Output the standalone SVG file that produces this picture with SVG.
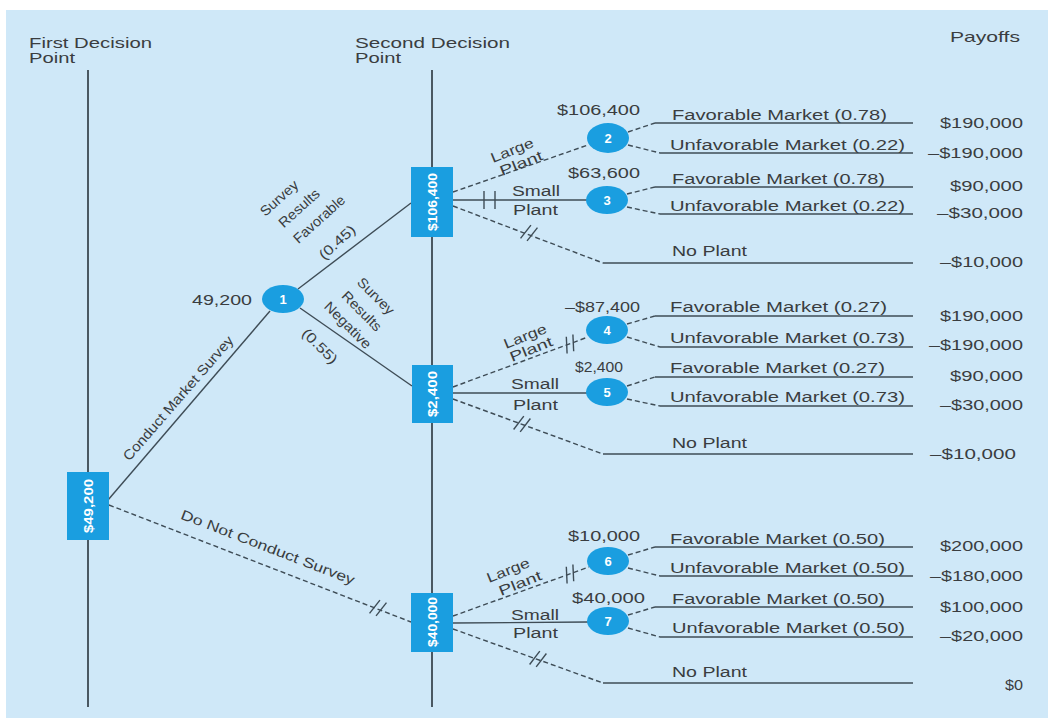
<svg xmlns="http://www.w3.org/2000/svg" xmlns:xlink="http://www.w3.org/1999/xlink" width="1053" height="720" viewBox="0 0 1053 720">
<style>
.t{font-family:"Liberation Sans",Arial,sans-serif;font-size:14px;fill:#3a3d40}
.h{font-size:15px}
.c{text-anchor:middle;dominant-baseline:central}
.ln{stroke:#3e4c56;stroke-width:1.4;fill:none}
.dash{stroke-dasharray:5 3}
.axis{stroke:#4a5862;stroke-width:2;fill:none}
.fill{fill:#1a9ee0}
.w{font-family:"Liberation Sans",Arial,sans-serif;fill:#ffffff;font-weight:bold;font-size:13px}
</style>
<defs>
  <!-- pruning marks: slanted pair and upright pair -->
  <g id="prune" class="ln">
    <line x1="-6" y1="8" x2="-1" y2="-8"/>
    <line x1="1" y1="8" x2="6" y2="-8"/>
  </g>
  <g id="bars" class="ln">
    <line x1="-5" y1="-9" x2="-5" y2="9"/>
    <line x1="6" y1="-9" x2="6" y2="9"/>
  </g>
</defs>

<rect x="6" y="10" width="1042" height="708" fill="#cfe8f8"/>

<!-- column headings and stage lines -->
<g id="headings">
  <text class="t h" x="29" y="48" textLength="123" lengthAdjust="spacingAndGlyphs">First Decision</text>
  <text class="t h" x="29" y="63" textLength="46" lengthAdjust="spacingAndGlyphs">Point</text>
  <text class="t h" x="355" y="48" textLength="155" lengthAdjust="spacingAndGlyphs">Second Decision</text>
  <text class="t h" x="355" y="63" textLength="46" lengthAdjust="spacingAndGlyphs">Point</text>
  <text class="t h" x="950" y="42" textLength="70" lengthAdjust="spacingAndGlyphs">Payoffs</text>
  <line class="axis" x1="88" y1="70" x2="88" y2="707"/>
  <line class="axis" x1="432" y1="70" x2="432" y2="707"/>
</g>

<g id="connectors">
  <!-- first decision -->
  <line class="ln" x1="108" y1="500" x2="270" y2="311"/>
  <line class="ln dash" x1="109" y1="505" x2="411" y2="622"/>
  <!-- survey outcomes -->
  <line class="ln" x1="298" y1="289" x2="411" y2="203"/>
  <line class="ln" x1="300" y1="308" x2="412" y2="386"/>
  <!-- favorable survey: plant choices -->
  <line class="ln dash" x1="453" y1="192" x2="588" y2="145"/>
  <line class="ln" x1="453" y1="200" x2="587" y2="200"/>
  <line class="ln dash" x1="453" y1="206" x2="603" y2="263"/>
  <line class="ln" x1="603" y1="263" x2="913" y2="263"/>
  <!-- negative survey: plant choices -->
  <line class="ln dash" x1="453" y1="387" x2="588" y2="337"/>
  <line class="ln" x1="453" y1="393" x2="587" y2="393"/>
  <line class="ln dash" x1="453" y1="399" x2="603" y2="454"/>
  <line class="ln" x1="603" y1="454" x2="913" y2="454"/>
  <!-- no survey: plant choices -->
  <line class="ln dash" x1="453" y1="616" x2="589" y2="567"/>
  <line class="ln" x1="453" y1="623" x2="588" y2="622"/>
  <line class="ln dash" x1="453" y1="629" x2="603" y2="683"/>
  <line class="ln" x1="603" y1="683" x2="913" y2="683"/>
  <!-- market outcomes -->
  <line class="ln dash" x1="628" y1="132" x2="655" y2="123"/><line class="ln" x1="655" y1="123" x2="913" y2="123"/>
  <line class="ln dash" x1="628" y1="145" x2="660" y2="153"/><line class="ln" x1="660" y1="153" x2="913" y2="153"/>
  <line class="ln dash" x1="627" y1="194" x2="655" y2="187"/><line class="ln" x1="655" y1="187" x2="913" y2="187"/>
  <line class="ln dash" x1="627" y1="207" x2="660" y2="214"/><line class="ln" x1="660" y1="214" x2="913" y2="214"/>
  <line class="ln dash" x1="627" y1="324" x2="655" y2="316"/><line class="ln" x1="655" y1="316" x2="913" y2="316"/>
  <line class="ln dash" x1="627" y1="337" x2="660" y2="347"/><line class="ln" x1="660" y1="347" x2="913" y2="347"/>
  <line class="ln dash" x1="627" y1="386" x2="655" y2="377"/><line class="ln" x1="655" y1="377" x2="913" y2="377"/>
  <line class="ln dash" x1="627" y1="399" x2="660" y2="406"/><line class="ln" x1="660" y1="406" x2="913" y2="406"/>
  <line class="ln dash" x1="628" y1="555" x2="655" y2="547"/><line class="ln" x1="655" y1="547" x2="913" y2="547"/>
  <line class="ln dash" x1="628" y1="568" x2="660" y2="576"/><line class="ln" x1="660" y1="576" x2="913" y2="576"/>
  <line class="ln dash" x1="628" y1="615" x2="655" y2="607"/><line class="ln" x1="655" y1="607" x2="913" y2="607"/>
  <line class="ln dash" x1="628" y1="628" x2="660" y2="637"/><line class="ln" x1="660" y1="637" x2="913" y2="637"/>
  <!-- pruned branches -->
  <use xlink:href="#bars" transform="translate(489,200)"/>
  <use xlink:href="#prune" transform="translate(529,233) rotate(21)"/>
  <use xlink:href="#prune" transform="translate(570,344) rotate(-20)"/>
  <use xlink:href="#prune" transform="translate(522,424) rotate(20)"/>
  <use xlink:href="#prune" transform="translate(570,574) rotate(-20)"/>
  <use xlink:href="#prune" transform="translate(538,659) rotate(20)"/>
  <use xlink:href="#prune" transform="translate(378,608) rotate(21)"/>
</g>

<!-- branch labels -->
<g id="branch-labels">
  <text class="t c" transform="translate(178,398) rotate(-49)" textLength="160" lengthAdjust="spacingAndGlyphs">Conduct Market Survey</text>
  <text class="t c" transform="translate(268,547) rotate(21)" textLength="185" lengthAdjust="spacingAndGlyphs">Do Not Conduct Survey</text>
  <text class="t c" transform="translate(279,198) rotate(-42)" textLength="46" lengthAdjust="spacingAndGlyphs">Survey</text>
  <text class="t c" transform="translate(299,208) rotate(-42)" textLength="50" lengthAdjust="spacingAndGlyphs">Results</text>
  <text class="t c" transform="translate(319,219) rotate(-42)" textLength="64" lengthAdjust="spacingAndGlyphs">Favorable</text>
  <text class="t c" transform="translate(337,242) rotate(-42)" textLength="44" lengthAdjust="spacingAndGlyphs">(0.45)</text>
  <text class="t c" transform="translate(376,296) rotate(45)" textLength="46" lengthAdjust="spacingAndGlyphs">Survey</text>
  <text class="t c" transform="translate(362,311) rotate(45)" textLength="50" lengthAdjust="spacingAndGlyphs">Results</text>
  <text class="t c" transform="translate(348,325) rotate(45)" textLength="60" lengthAdjust="spacingAndGlyphs">Negative</text>
  <text class="t c" transform="translate(320,346) rotate(45)" textLength="44" lengthAdjust="spacingAndGlyphs">(0.55)</text>

  <text class="t c" transform="translate(512,150) rotate(-22)" textLength="45" lengthAdjust="spacingAndGlyphs">Large</text>
  <text class="t c" transform="translate(521,163) rotate(-22)" textLength="45" lengthAdjust="spacingAndGlyphs">Plant</text>
  <text class="t" x="512" y="196" textLength="48" lengthAdjust="spacingAndGlyphs">Small</text>
  <text class="t" x="513" y="215" textLength="45" lengthAdjust="spacingAndGlyphs">Plant</text>

  <text class="t c" transform="translate(525,336) rotate(-22)" textLength="45" lengthAdjust="spacingAndGlyphs">Large</text>
  <text class="t c" transform="translate(531,349) rotate(-22)" textLength="45" lengthAdjust="spacingAndGlyphs">Plant</text>
  <text class="t" x="511" y="389" textLength="48" lengthAdjust="spacingAndGlyphs">Small</text>
  <text class="t" x="513" y="410" textLength="45" lengthAdjust="spacingAndGlyphs">Plant</text>

  <text class="t c" transform="translate(508,570) rotate(-22)" textLength="45" lengthAdjust="spacingAndGlyphs">Large</text>
  <text class="t c" transform="translate(520,583) rotate(-22)" textLength="45" lengthAdjust="spacingAndGlyphs">Plant</text>
  <text class="t" x="511" y="620" textLength="48" lengthAdjust="spacingAndGlyphs">Small</text>
  <text class="t" x="513" y="638" textLength="45" lengthAdjust="spacingAndGlyphs">Plant</text>

  <text class="t" x="672" y="120" textLength="215" lengthAdjust="spacingAndGlyphs">Favorable Market (0.78)</text>
  <text class="t" x="670" y="150" textLength="235" lengthAdjust="spacingAndGlyphs">Unfavorable Market (0.22)</text>
  <text class="t" x="672" y="184" textLength="213" lengthAdjust="spacingAndGlyphs">Favorable Market (0.78)</text>
  <text class="t" x="670" y="211" textLength="235" lengthAdjust="spacingAndGlyphs">Unfavorable Market (0.22)</text>
  <text class="t" x="672" y="256" textLength="75" lengthAdjust="spacingAndGlyphs">No Plant</text>

  <text class="t" x="670" y="312" textLength="217" lengthAdjust="spacingAndGlyphs">Favorable Market (0.27)</text>
  <text class="t" x="670" y="343" textLength="235" lengthAdjust="spacingAndGlyphs">Unfavorable Market (0.73)</text>
  <text class="t" x="670" y="373" textLength="215" lengthAdjust="spacingAndGlyphs">Favorable Market (0.27)</text>
  <text class="t" x="670" y="402" textLength="235" lengthAdjust="spacingAndGlyphs">Unfavorable Market (0.73)</text>
  <text class="t" x="672" y="448" textLength="75" lengthAdjust="spacingAndGlyphs">No Plant</text>

  <text class="t" x="670" y="544" textLength="215" lengthAdjust="spacingAndGlyphs">Favorable Market (0.50)</text>
  <text class="t" x="670" y="573" textLength="235" lengthAdjust="spacingAndGlyphs">Unfavorable Market (0.50)</text>
  <text class="t" x="672" y="604" textLength="213" lengthAdjust="spacingAndGlyphs">Favorable Market (0.50)</text>
  <text class="t" x="672" y="633" textLength="233" lengthAdjust="spacingAndGlyphs">Unfavorable Market (0.50)</text>
  <text class="t" x="672" y="677" textLength="75" lengthAdjust="spacingAndGlyphs">No Plant</text>
</g>

<!-- payoffs -->
<g id="payoffs">
  <text class="t" x="940" y="128" textLength="83" lengthAdjust="spacingAndGlyphs">$190,000</text>
  <text class="t" x="928" y="158" textLength="95" lengthAdjust="spacingAndGlyphs">–$190,000</text>
  <text class="t" x="950" y="191" textLength="73" lengthAdjust="spacingAndGlyphs">$90,000</text>
  <text class="t" x="937" y="218" textLength="86" lengthAdjust="spacingAndGlyphs">–$30,000</text>
  <text class="t" x="940" y="267" textLength="83" lengthAdjust="spacingAndGlyphs">–$10,000</text>

  <text class="t" x="940" y="321" textLength="83" lengthAdjust="spacingAndGlyphs">$190,000</text>
  <text class="t" x="929" y="350" textLength="94" lengthAdjust="spacingAndGlyphs">–$190,000</text>
  <text class="t" x="950" y="381" textLength="73" lengthAdjust="spacingAndGlyphs">$90,000</text>
  <text class="t" x="940" y="410" textLength="83" lengthAdjust="spacingAndGlyphs">–$30,000</text>
  <text class="t" x="930" y="459" textLength="86" lengthAdjust="spacingAndGlyphs">–$10,000</text>

  <text class="t" x="940" y="551" textLength="83" lengthAdjust="spacingAndGlyphs">$200,000</text>
  <text class="t" x="930" y="581" textLength="93" lengthAdjust="spacingAndGlyphs">–$180,000</text>
  <text class="t" x="940" y="612" textLength="83" lengthAdjust="spacingAndGlyphs">$100,000</text>
  <text class="t" x="940" y="641" textLength="83" lengthAdjust="spacingAndGlyphs">–$20,000</text>
  <text class="t" x="1005" y="690" textLength="18" lengthAdjust="spacingAndGlyphs">$0</text>
</g>

<!-- decision points -->
<g id="decision-first">
  <rect class="fill" x="67" y="472" width="42" height="68"/>
  <text class="w c" transform="translate(88,506) rotate(-90)" textLength="54" lengthAdjust="spacingAndGlyphs">$49,200</text>
</g>
<g id="decision-favorable">
  <rect class="fill" x="411" y="167" width="42" height="70"/>
  <text class="w c" transform="translate(432,202) rotate(-90)" textLength="58" lengthAdjust="spacingAndGlyphs">$106,400</text>
</g>
<g id="decision-negative">
  <rect class="fill" x="412" y="365" width="41" height="58"/>
  <text class="w c" transform="translate(432,394) rotate(-90)" textLength="46" lengthAdjust="spacingAndGlyphs">$2,400</text>
</g>
<g id="decision-nosurvey">
  <rect class="fill" x="411" y="593" width="42" height="59"/>
  <text class="w c" transform="translate(432,622) rotate(-90)" textLength="50" lengthAdjust="spacingAndGlyphs">$40,000</text>
</g>

<!-- chance nodes -->
<g id="node-1">
  <ellipse class="fill" cx="283" cy="299" rx="21" ry="14"/>
  <text class="w c" x="283" y="299">1</text>
  <text class="t" x="192" y="305" textLength="60" lengthAdjust="spacingAndGlyphs">49,200</text>
</g>
<g id="node-2">
  <ellipse class="fill" cx="608" cy="138" rx="21" ry="15"/>
  <text class="w c" x="608" y="138">2</text>
  <text class="t" x="557" y="115" textLength="83" lengthAdjust="spacingAndGlyphs">$106,400</text>
</g>
<g id="node-3">
  <ellipse class="fill" cx="607" cy="200" rx="21" ry="14"/>
  <text class="w c" x="607" y="200">3</text>
  <text class="t" x="568" y="178" textLength="72" lengthAdjust="spacingAndGlyphs">$63,600</text>
</g>
<g id="node-4">
  <ellipse class="fill" cx="607" cy="330" rx="21" ry="14"/>
  <text class="w c" x="607" y="330">4</text>
  <text class="t" x="565" y="312" textLength="75" lengthAdjust="spacingAndGlyphs">–$87,400</text>
</g>
<g id="node-5">
  <ellipse class="fill" cx="607" cy="392" rx="21" ry="14"/>
  <text class="w c" x="607" y="392">5</text>
  <text class="t" x="575" y="372" textLength="48" lengthAdjust="spacingAndGlyphs">$2,400</text>
</g>
<g id="node-6">
  <ellipse class="fill" cx="608" cy="561" rx="21" ry="14"/>
  <text class="w c" x="608" y="561">6</text>
  <text class="t" x="568" y="541" textLength="72" lengthAdjust="spacingAndGlyphs">$10,000</text>
</g>
<g id="node-7">
  <ellipse class="fill" cx="608" cy="621" rx="21" ry="14"/>
  <text class="w c" x="608" y="621">7</text>
  <text class="t" x="572" y="603" textLength="73" lengthAdjust="spacingAndGlyphs">$40,000</text>
</g>
</svg>
